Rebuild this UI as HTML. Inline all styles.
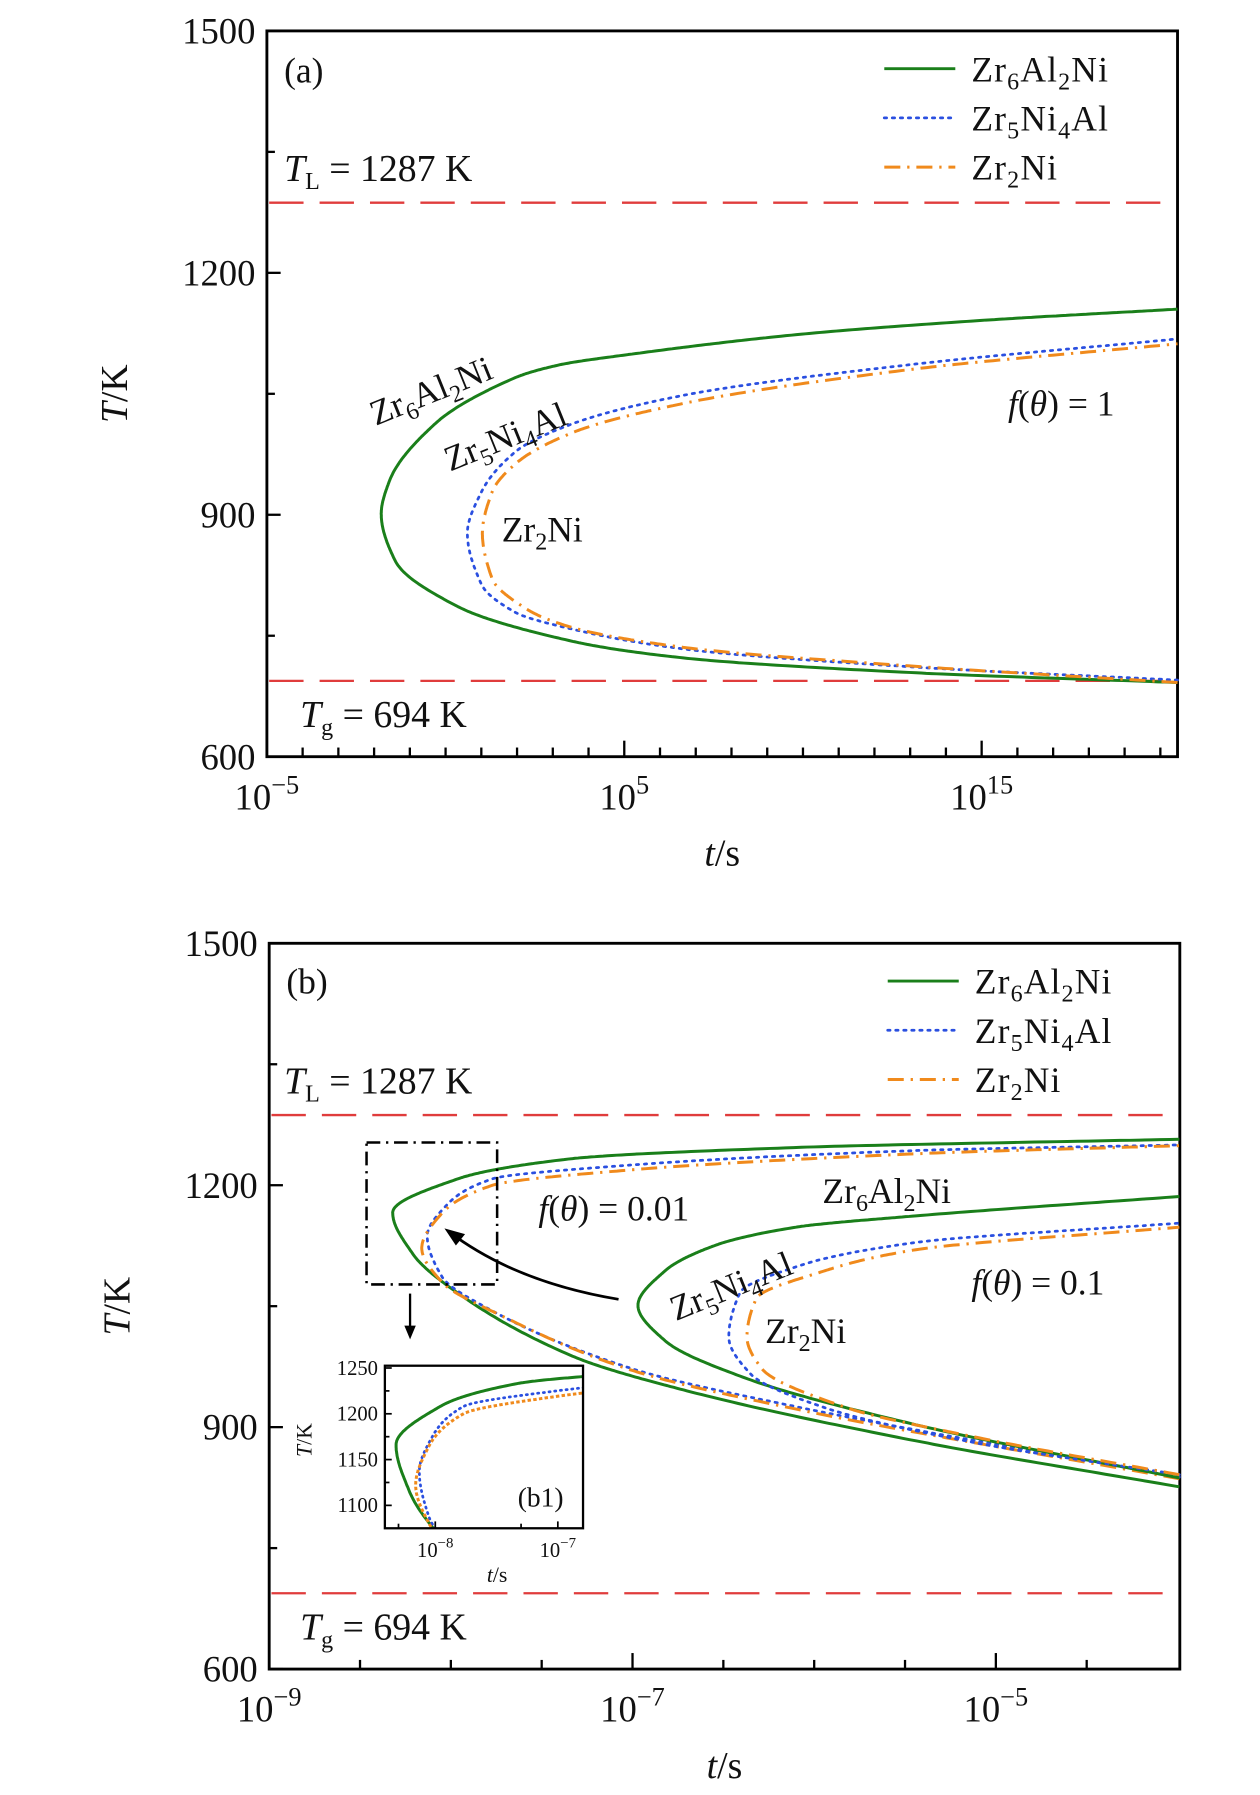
<!DOCTYPE html>
<html><head><meta charset="utf-8"><style>
html,body{margin:0;padding:0;background:#fff}
svg{display:block}
text{font-family:"Liberation Serif",serif;fill:#111}
</style></head><body>
<svg id="s" width="1260" height="1795" viewBox="0 0 1100 1568" preserveAspectRatio="none" xmlns="http://www.w3.org/2000/svg">
<g id="ga"></g>
<g id="gb"></g>
</svg>
<script>
// ---- Panel (a) data: log10(t/s) and T/K (upper branch -> nose -> lower branch) ----
const aGreenLogT=[20.48,15,9.97,5,3.2,1.95,-0.29,-1.57,-1.8,-1.41,0.35,3.56,6.76,13.17,20.48];
const aGreenT=[1155,1141,1124,1098,1086,1070,1013,942,901,843,786,743,722,704,692];
const aBlueLogT=[20.48,13.17,6.76,3.56,1.95,1.0,0.61,1.0,1.95,3.56,6.76,13.17,20.48];
const aBlueT=[1118,1087,1049,1013,978,928,877,814,779,758,733,711,695];
const aOrangeLogT=[20.48,13.17,6.76,3.56,1.95,1.3,1.03,1.3,2.27,3.56,6.76,13.17,20.48];
const aOrangeT=[1112,1081,1039,1002,963,928,877,821,783,760,735,712,692];
// ---- Panel (b) data ----
const bG1LogT=[-3.99,-6.07,-7.33,-7.96,-8.32,-8.21,-7.96,-7.33,-6.70,-5.44,-3.99];
const bG1T=[1257,1247,1233,1208,1166,1115,1066,988,945,883,826];
const bB1LogT=[-3.99,-5.44,-7.01,-7.77,-8.02,-8.13,-8.05,-7.77,-7.01,-6.07,-3.99];
const bB1T=[1250,1243,1225,1208,1176,1137,1087,1044,973,924,838];
const bO1LogT=[-3.99,-5.44,-7.01,-7.77,-8.05,-8.16,-8.05,-7.71,-7.01,-6.07,-3.99];
const bO1T=[1249,1239,1219,1200,1165,1122,1080,1037,971,921,836];
const bG2LogT=[-3.99,-5.44,-6.1,-6.55,-6.82,-6.97,-6.82,-6.38,-5.44,-3.99];
const bG2T=[1186,1162,1148,1125,1094,1051,1007,961,903,837];
const bB2LogT=[-3.99,-5.44,-6.07,-6.41,-6.47,-6.35,-5.94,-5.12,-3.99];
const bB2T=[1153,1129,1101,1066,1012,966,924,881,841];
const bO2LogT=[-3.99,-5.44,-5.94,-6.32,-6.37,-6.29,-5.82,-5.12,-3.99];
const bO2T=[1148,1120,1094,1059,1012,973,924,888,841];
const yTicks=[600,900,1200,1500];
const aXTickExp=[-5,5,15];
const bXTickExp=[-9,-7,-5];
const insetYTicks=[1100,1150,1200,1250];
const insetXTickExp=[-8,-7];
const TL=1287, TG=694;

const NS="http://www.w3.org/2000/svg";
function el(parent,tag,attrs){const e=document.createElementNS(NS,tag);for(const k in attrs)e.setAttribute(k,attrs[k]);parent.appendChild(e);return e;}
// Monotone (Fritsch-Carlson) cubic of logt vs T; T ascending, first point is the nose (slope 0)
function monotone(T,X,n){const N=T.length,d=[],m=[];
 for(let i=0;i<N-1;i++)d.push((X[i+1]-X[i])/(T[i+1]-T[i]));
 for(let i=0;i<N;i++){if(i==0)m.push(0);else if(i==N-1)m.push(d[N-2]);
  else m.push(d[i-1]*d[i]<=0?0:(2/(1/d[i-1]+1/d[i])));}
 const out=[];for(let i=0;i<N-1;i++){const h=T[i+1]-T[i];for(let k=0;k<n;k++){const s=k/n,s2=s*s,s3=s2*s;
  const x=(2*s3-3*s2+1)*X[i]+(s3-2*s2+s)*h*m[i]+(-2*s3+3*s2)*X[i+1]+(s3-s2)*h*m[i+1];out.push([x,T[i]+s*h]);}}
 out.push([X[N-1],T[N-1]]);return out;}
function curvePts(lt,T){let ni=0;for(let i=1;i<T.length;i++)if(lt[i]<lt[ni])ni=i;
 const upT=T.slice(0,ni+1).reverse(),upX=lt.slice(0,ni+1).reverse();
 const loT=T.slice(ni).map(v=>-v),loX=lt.slice(ni);
 const lo=monotone(loT,loX,40).map(p=>[p[0],-p[1]]).reverse();
 const up=monotone(upT,upX,40);
 return lo.concat(up.slice(1));}
const styles={green:{stroke:"#1a7f1a","stroke-width":2.6},blue:{stroke:"#2a4fe0","stroke-width":2.4,"stroke-dasharray":"2 5","stroke-linecap":"round"},
 orange:{stroke:"#f08a1c","stroke-width":2.6,"stroke-dasharray":"14 6 2 6"}};
function curve(g,sx,sy,lt,T,st,name){const pts=curvePts(lt,T).map(p=>[sx(p[0]),sy(p[1])]);
 const p=el(g,"path",Object.assign({d:"M"+pts.map(q=>q[0].toFixed(1)+","+q[1].toFixed(1)).join("L"),fill:"none","stroke-linejoin":"round"},styles[st]));
 
 return p;}
function txt(g,x,y,html,size,name,extra){const t=el(g,"text",Object.assign({x:x,y:y,"font-size":size},extra||{}));t.innerHTML=html;
 
 return t;}
function axes(g,L,R,Tp,B,sx,sy,xExp,xMin,xMax,minorStep,name){
 el(g,"rect",{x:L,y:Tp,width:R-L,height:B-Tp,fill:"none",stroke:"#000","stroke-width":2.5});
 for(let v=600;v<=1500;v+=150){const y=sy(v);const big=yTicks.includes(v);el(g,"line",{x1:L,x2:L+(big?12:7),y1:y,y2:y,stroke:"#000","stroke-width":2});}
 yTicks.forEach(v=>{txt(g,L-10,sy(v)+11,String(v),32,"y-tick-label-"+v,{"text-anchor":"end"});});
 for(let e=Math.ceil(xMin);e<=xMax;e+=minorStep){const x=sx(e);const big=xExp.includes(e);el(g,"line",{x1:x,x2:x,y1:B,y2:B-(big?14:8),stroke:"#000","stroke-width":2});}
 xExp.forEach(e=>{txt(g,sx(e),B+46,"10<tspan dy='-14' font-size='23'>"+(e<0?"−"+(-e):e)+"</tspan>",32,"x-tick-label-1e"+e,{"text-anchor":"middle"});});
 txt(g,(L+R)/2,B+95,"<tspan font-style='italic'>t</tspan>/s",33,name+"-x-axis-title",{"text-anchor":"middle"});
 txt(g,0,0,"<tspan font-style='italic'>T</tspan>/K",33,name+"-y-axis-title",{"text-anchor":"middle",transform:"translate("+(L-122)+","+((Tp+B)/2)+") rotate(-90)"});
}
function hline(g,L,R,y,name){const l=el(g,"line",{x1:L,x2:R,y1:y,y2:y,stroke:"#e03c3c","stroke-width":2,"stroke-dasharray":"30 14"});
 
 }
const nm6="Zr<tspan dy='7' font-size='21'>6</tspan><tspan dy='-7'>Al</tspan><tspan dy='7' font-size='21'>2</tspan><tspan dy='-7'>Ni</tspan>";
const nm5="Zr<tspan dy='7' font-size='21'>5</tspan><tspan dy='-7'>Ni</tspan><tspan dy='7' font-size='21'>4</tspan><tspan dy='-7'>Al</tspan>";
const nm2="Zr<tspan dy='7' font-size='21'>2</tspan><tspan dy='-7'>Ni</tspan>";
function legend(g,x,y){const items=[["green",nm6],["blue",nm5],["orange",nm2]];
 items.forEach((it,i)=>{const yy=y+i*43;const ln=el(g,"line",Object.assign({x1:x,x2:x+62,y1:yy,y2:yy},styles[it[0]]));
  
  
  txt(g,x+76,yy+11,it[1],31,"legend-entry-"+it[0],{"letter-spacing":"1"});});}
const Tl="<tspan font-style='italic'>T</tspan><tspan dy='7' font-size='21'>L</tspan><tspan dy='-7'> = 1287 K</tspan>";
const Tg="<tspan font-style='italic'>T</tspan><tspan dy='7' font-size='21'>g</tspan><tspan dy='-7'> = 694 K</tspan>";

// Panel a
(function(){const g=document.getElementById("ga");const L=233,R=1028,Tp=27,B=661;
 const sx=v=>L+(v+5)*31.2, sy=v=>B-(v-600)*(B-Tp)/900;
 axes(g,L,R,Tp,B,sx,sy,aXTickExp,-5,20.4,1,"panel-a");
 hline(g,L+2,R-2,sy(TL),"liquidus-line-a");hline(g,L+2,R-2,sy(TG),"glass-transition-line-a");
 curve(g,sx,sy,aGreenLogT,aGreenT,"green","curve-zr6al2ni-a");
 curve(g,sx,sy,aBlueLogT,aBlueT,"blue","curve-zr5ni4al-a");
 curve(g,sx,sy,aOrangeLogT,aOrangeT,"orange","curve-zr2ni-a");
 txt(g,248,72,"(a)",31,"panel-label-a");
 txt(g,248,158,Tl,33,"tl-label-a");txt(g,262,635,Tg,33,"tg-label-a");
 txt(g,880,363,"<tspan font-style='italic'>f</tspan>(<tspan font-style='italic'>θ</tspan>) = 1",31,"f-theta-label-a");
 txt(g,0,0,nm6,31,"annotation-zr6al2ni-a",{transform:"translate(328,372) rotate(-22)"});
 txt(g,0,0,nm5,31,"annotation-zr5ni4al-a",{transform:"translate(393,412) rotate(-22)"});
 txt(g,438,473,nm2,31,"annotation-zr2ni-a");
 legend(g,772,60);
})();
// Panel b
(function(){const g=document.getElementById("gb");const L=235,R=1030,Tp=824,B=1458;
 const sx=v=>L+(v+9)*158.6, sy=v=>B-(v-600)*(B-Tp)/900;
 axes(g,L,R,Tp,B,sx,sy,bXTickExp,-9,-4.05,0.5,"panel-b");
 hline(g,L+2,R-2,sy(TL),"liquidus-line-b");hline(g,L+2,R-2,sy(TG),"glass-transition-line-b");
 curve(g,sx,sy,bG1LogT,bG1T,"green","curve-zr6al2ni-f001");
 curve(g,sx,sy,bB1LogT,bB1T,"blue","curve-zr5ni4al-f001");
 curve(g,sx,sy,bO1LogT,bO1T,"orange","curve-zr2ni-f001");
 curve(g,sx,sy,bG2LogT,bG2T,"green","curve-zr6al2ni-f01");
 curve(g,sx,sy,bB2LogT,bB2T,"blue","curve-zr5ni4al-f01");
 curve(g,sx,sy,bO2LogT,bO2T,"orange","curve-zr2ni-f01");
 txt(g,250,868,"(b)",31,"panel-label-b");
 txt(g,248,955,Tl,33,"tl-label-b");txt(g,262,1432,Tg,33,"tg-label-b");
 txt(g,470,1066,"<tspan font-style='italic'>f</tspan>(<tspan font-style='italic'>θ</tspan>) = 0.01",31,"f-theta-label-001");
 txt(g,848,1131,"<tspan font-style='italic'>f</tspan>(<tspan font-style='italic'>θ</tspan>) = 0.1",31,"f-theta-label-01");
 txt(g,718,1051,nm6,31,"annotation-zr6al2ni-b");
 txt(g,0,0,nm5,31,"annotation-zr5ni4al-b",{transform:"translate(590,1154) rotate(-22)"});
 txt(g,668,1173,nm2,31,"annotation-zr2ni-b");
 legend(g,775,857);
 const box=el(g,"rect",{x:320,y:998,width:114,height:124,fill:"none",stroke:"#000","stroke-width":2.2,"stroke-dasharray":"12 5 2 5"});
 
 
 const arr=el(g,"path",{d:"M540,1135 Q450,1120 392,1076",fill:"none",stroke:"#000","stroke-width":2.4});
 
 
 el(g,"path",{d:"M388,1073 L406,1078 L398,1088 Z",fill:"#000"});
 el(g,"line",{x1:358,x2:358,y1:1130,y2:1162,stroke:"#000","stroke-width":2});
 el(g,"path",{d:"M353,1158 L363,1158 L358,1170 Z",fill:"#000"});
 // Inset b1
 const ig=el(g,"g",{});
 const iL=336,iR=509,iT=1193,iB=1335;
 const ix=v=>380+(v+8)*107, iy=v=>1195+(1250-v)*0.8;
 el(ig,"defs",{}).innerHTML="<clipPath id='ic'><rect x='"+iL+"' y='"+iT+"' width='"+(iR-iL)+"' height='"+(iB-iT)+"'/></clipPath>";
 const cg=el(ig,"g",{"clip-path":"url(#ic)"});
 curve(cg,ix,iy,bG1LogT,bG1T,"green","inset-curve-zr6al2ni");
 const cb=curve(cg,ix,iy,bB1LogT,bB1T,"blue","inset-curve-zr5ni4al");cb.setAttribute("stroke-dasharray","1 4");
 const co=curve(cg,ix,iy,bO1LogT,bO1T,"orange","inset-curve-zr2ni");co.setAttribute("stroke-dasharray","3 2");
 el(ig,"rect",{x:iL,y:iT,width:iR-iL,height:iB-iT,fill:"none",stroke:"#000","stroke-width":2});
 insetYTicks.forEach(v=>{el(ig,"line",{x1:iL,x2:iL+6,y1:iy(v),y2:iy(v),stroke:"#000","stroke-width":1.5});
  txt(ig,iL-6,iy(v)+6,String(v),18,"inset-y-tick-"+v,{"text-anchor":"end"});});
 [1125,1175,1225].forEach(v=>el(ig,"line",{x1:iL,x2:iL+4,y1:iy(v),y2:iy(v),stroke:"#000","stroke-width":1.5}));
 insetXTickExp.forEach(e=>{el(ig,"line",{x1:ix(e),x2:ix(e),y1:iB,y2:iB-6,stroke:"#000","stroke-width":1.5});
  txt(ig,ix(e),iB+25,"10<tspan dy='-8' font-size='13'>−"+(-e)+"</tspan>",18,"inset-x-tick-1e"+e,{"text-anchor":"middle"});});
 [-8.3,-7.3].forEach(e=>el(ig,"line",{x1:ix(e),x2:ix(e),y1:iB,y2:iB-4,stroke:"#000","stroke-width":1.5}));
 txt(ig,434,1382,"<tspan font-style='italic'>t</tspan>/s",19,"inset-x-axis-title",{"text-anchor":"middle"});
 txt(ig,0,0,"<tspan font-style='italic'>T</tspan>/K",19,"inset-y-axis-title",{"text-anchor":"middle",transform:"translate(272,1258) rotate(-90)"});
 txt(ig,452,1316,"(b1)",24,"inset-label-b1");
})();
</script>
</body></html>
